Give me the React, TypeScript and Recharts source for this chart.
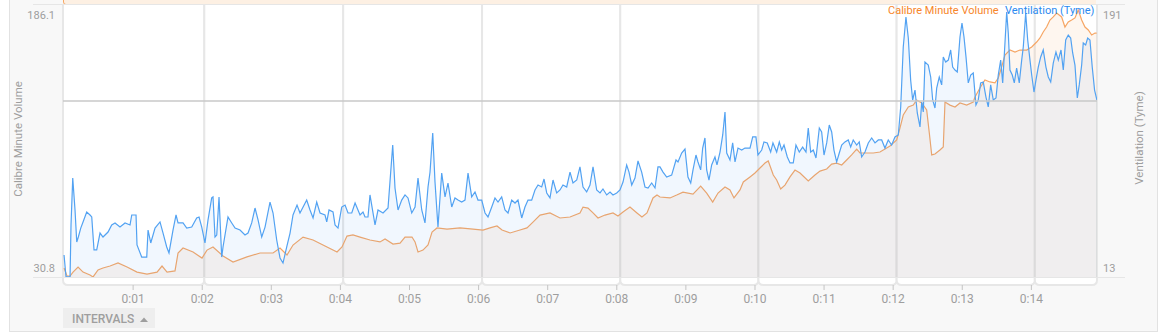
import { ComposedChart, Area, XAxis, YAxis, ReferenceLine, ReferenceArea } from "recharts";

// [minutes, value]
const cmvSeries: [number, number][] = [
  [0, 30.8], [0.043, 25.9], [0.087, 25.9], [0.13, 28.3], [0.203, 31.4], [0.275, 28.3], [0.376, 26.5], [0.42, 25.3],
  [0.492, 29.6], [0.564, 30.8], [0.666, 32.0], [0.781, 33.9], [0.912, 31.4], [1.056, 28.3], [1.201, 27.1], [1.346, 28.3],
  [1.418, 32.0], [1.491, 28.3], [1.606, 29.0], [1.65, 40.0], [1.722, 43.1], [1.867, 40.6], [1.997, 36.9], [2.069, 41.8],
  [2.156, 43.7], [2.301, 38.2], [2.446, 34.5], [2.648, 37.6], [2.837, 40.0], [3.025, 40.0], [3.126, 43.1], [3.227, 38.8],
  [3.314, 44.9], [3.459, 49.8], [3.604, 48.0], [3.748, 44.9], [3.951, 40.6], [4.023, 43.7], [4.095, 50.4], [4.182, 51.1],
  [4.284, 49.8], [4.428, 48.0], [4.573, 46.8], [4.646, 48.6], [4.761, 45.5], [4.863, 46.1], [4.935, 49.8], [5.036, 49.8],
  [5.08, 46.8], [5.123, 40.6], [5.195, 41.8], [5.268, 44.9], [5.326, 52.9], [5.398, 55.4], [5.543, 54.7], [5.731, 55.4],
  [5.919, 54.7], [6.064, 54.1], [6.165, 55.4], [6.266, 56.6], [6.339, 54.1], [6.455, 52.3], [6.599, 54.1], [6.7, 55.4],
  [6.787, 59.0], [6.889, 63.3], [7.033, 64.6], [7.178, 61.5], [7.323, 62.1], [7.467, 64.6], [7.511, 68.2], [7.583, 67.6],
  [7.656, 64.6], [7.728, 61.5], [7.829, 63.3], [7.945, 64.6], [8.017, 62.7], [8.09, 65.2], [8.191, 68.2], [8.292, 64.6],
  [8.364, 62.1], [8.437, 64.6], [8.524, 73.8], [8.582, 75.6], [8.625, 74.4], [8.77, 73.8], [8.867, 75.6], [8.958, 77.4],
  [9.103, 76.2], [9.214, 81.1], [9.301, 76.8], [9.388, 71.3], [9.465, 76.8], [9.566, 80.5], [9.638, 78.7], [9.696, 73.8],
  [9.783, 78.7], [9.831, 83.6], [9.928, 86.7], [10.0, 89.1], [10.072, 92.2], [10.145, 95.2], [10.192, 96.5], [10.265, 87.9],
  [10.314, 84.8], [10.372, 79.3], [10.434, 81.7], [10.507, 86.7], [10.579, 90.9], [10.652, 89.1], [10.771, 84.2], [10.868, 87.9],
  [10.941, 90.3], [11.038, 91.6], [11.11, 94.6], [11.182, 95.2], [11.255, 94.0], [11.327, 97.1], [11.399, 100.2], [11.472, 103.8],
  [11.519, 101.4], [11.592, 101.4], [11.712, 101.4], [11.809, 102.0], [11.906, 104.5], [11.954, 105.7], [12.051, 109.4], [12.098, 116.7],
  [12.146, 124.7], [12.219, 129.6], [12.291, 130.8], [12.34, 133.9], [12.413, 132.1], [12.485, 127.8], [12.523, 113.7], [12.558, 100.2],
  [12.605, 100.8], [12.677, 103.2], [12.725, 105.1], [12.75, 132.7], [12.822, 130.8], [12.895, 129.6], [12.967, 132.1], [13.064, 130.8],
  [13.159, 132.7], [13.184, 135.8], [13.256, 141.3], [13.328, 146.2], [13.401, 145.0], [13.473, 144.4], [13.521, 147.4], [13.57, 154.2],
  [13.618, 161.5], [13.69, 164.6], [13.763, 163.4], [13.835, 164.6], [13.932, 164.6], [14.005, 166.5], [14.077, 169.5], [14.125, 172.0],
  [14.172, 175.7], [14.221, 178.7], [14.269, 183.0], [14.317, 184.9], [14.366, 187.3], [14.438, 184.9], [14.486, 178.7], [14.534, 181.8],
  [14.583, 183.0], [14.631, 184.3], [14.679, 189.2], [14.728, 183.0], [14.776, 178.7], [14.824, 176.9], [14.873, 173.8], [14.921, 175.0],
  [14.945, 175.0],
];

const tymeSeries: [number, number][] = [
  [0, 22.1], [0.029, 6.7], [0.087, 6.7], [0.101, 43.3], [0.126, 76.3], [0.159, 53.8], [0.184, 31.3], [0.207, 34.8],
  [0.242, 41.1], [0.275, 45.4], [0.328, 52.4], [0.376, 50.3], [0.401, 48.9], [0.434, 25.7], [0.473, 25.7], [0.521, 37.6],
  [0.564, 34.8], [0.637, 38.3], [0.69, 43.3], [0.738, 44.7], [0.81, 41.8], [0.883, 44.7], [0.955, 43.3], [0.98, 50.3],
  [1.042, 50.3], [1.056, 29.2], [1.124, 20.7], [1.197, 20.7], [1.216, 39.7], [1.255, 30.6], [1.317, 41.1], [1.389, 45.4],
  [1.433, 37.6], [1.486, 27.8], [1.519, 23.6], [1.577, 39.7], [1.621, 50.3], [1.65, 44.7], [1.722, 44.7], [1.776, 41.1],
  [1.848, 41.8], [1.92, 48.2], [1.954, 48.9], [1.993, 41.8], [2.04, 30.6], [2.084, 46.8], [2.137, 62.3], [2.156, 63.0],
  [2.185, 34.8], [2.21, 36.2], [2.243, 63.0], [2.282, 20.7], [2.301, 27.8], [2.373, 48.9], [2.427, 44.7], [2.475, 41.1],
  [2.547, 39.7], [2.619, 36.2], [2.663, 37.6], [2.716, 44.7], [2.764, 55.2], [2.808, 46.8], [2.861, 34.8], [2.909, 41.8],
  [2.981, 59.4], [3.025, 51.7], [3.078, 32.7], [3.126, 20.0], [3.169, 16.5], [3.223, 27.8], [3.271, 37.6], [3.314, 50.3],
  [3.372, 57.3], [3.415, 51.7], [3.512, 60.8], [3.56, 53.8], [3.604, 48.2], [3.657, 59.4], [3.705, 51.7], [3.777, 50.3],
  [3.802, 45.4], [3.835, 53.8], [3.893, 52.4], [3.922, 43.3], [3.965, 41.1], [4.019, 55.9], [4.067, 57.3], [4.11, 51.7],
  [4.164, 51.7], [4.212, 58.7], [4.284, 50.3], [4.327, 52.4], [4.356, 48.9], [4.399, 48.9], [4.428, 64.4], [4.501, 43.3],
  [4.544, 53.8], [4.617, 51.7], [4.689, 55.2], [4.757, 99.5], [4.79, 69.3], [4.834, 53.8], [4.887, 60.8], [4.935, 64.4],
  [4.978, 62.3], [5.032, 51.7], [5.08, 55.9], [5.123, 76.3], [5.177, 53.8], [5.224, 44.7], [5.268, 70.0], [5.297, 80.5],
  [5.336, 108.0], [5.369, 73.5], [5.412, 41.8], [5.466, 79.8], [5.514, 63.0], [5.557, 72.8], [5.611, 55.9], [5.658, 62.3],
  [5.702, 60.8], [5.755, 59.4], [5.803, 60.8], [5.847, 79.8], [5.9, 63.0], [5.948, 66.5], [5.991, 60.8], [6.045, 60.8],
  [6.093, 51.7], [6.136, 48.9], [6.19, 55.9], [6.237, 62.3], [6.281, 59.4], [6.334, 63.0], [6.382, 53.8], [6.426, 51.7],
  [6.479, 60.8], [6.527, 58.7], [6.57, 60.8], [6.624, 48.2], [6.671, 55.9], [6.715, 60.8], [6.768, 60.8], [6.816, 67.9],
  [6.86, 71.4], [6.913, 70.0], [6.947, 75.6], [6.986, 65.8], [7.033, 62.3], [7.077, 74.9], [7.13, 65.8], [7.178, 67.9],
  [7.221, 71.4], [7.275, 70.0], [7.323, 80.5], [7.366, 72.8], [7.42, 74.9], [7.467, 84.1], [7.511, 70.0], [7.564, 66.5],
  [7.612, 71.4], [7.656, 84.1], [7.709, 67.9], [7.757, 65.8], [7.8, 68.6], [7.854, 64.4], [7.902, 66.5], [7.945, 64.4],
  [7.999, 65.8], [8.046, 67.9], [8.09, 73.5], [8.143, 85.5], [8.177, 80.5], [8.216, 71.4], [8.263, 76.3], [8.307, 88.3],
  [8.36, 80.5], [8.408, 70.0], [8.452, 69.3], [8.505, 72.8], [8.553, 69.3], [8.596, 84.1], [8.625, 84.1], [8.669, 80.5],
  [8.722, 77.0], [8.794, 78.4], [8.857, 89.0], [8.886, 87.6], [8.939, 93.9], [8.987, 96.7], [9.03, 77.0], [9.07, 72.8],
  [9.103, 82.0], [9.146, 92.5], [9.175, 87.6], [9.214, 82.0], [9.243, 97.4], [9.276, 104.5], [9.301, 82.0], [9.334, 74.9],
  [9.373, 85.5], [9.421, 91.1], [9.45, 85.5], [9.494, 94.6], [9.533, 106.6], [9.566, 122.8], [9.591, 93.9], [9.638, 89.0],
  [9.677, 101.0], [9.711, 87.6], [9.754, 97.4], [9.808, 96.0], [9.855, 97.4], [9.928, 97.4], [9.967, 105.2], [10.014, 105.2],
  [10.043, 92.5], [10.097, 96.0], [10.13, 101.7], [10.178, 101.0], [10.227, 94.6], [10.26, 101.0], [10.314, 94.6], [10.352, 101.7],
  [10.386, 96.0], [10.42, 99.5], [10.468, 91.1], [10.507, 86.9], [10.554, 86.9], [10.593, 99.5], [10.641, 94.6], [10.69, 98.1],
  [10.738, 94.6], [10.771, 111.5], [10.806, 94.6], [10.844, 96.0], [10.883, 90.4], [10.931, 111.5], [10.965, 108.7], [10.999, 92.5],
  [11.038, 101.0], [11.075, 113.6], [11.11, 108.7], [11.143, 96.0], [11.182, 87.6], [11.22, 93.9], [11.255, 99.5], [11.302, 101.7],
  [11.35, 103.1], [11.385, 98.1], [11.422, 103.1], [11.472, 99.5], [11.509, 101.7], [11.544, 91.1], [11.592, 94.6], [11.64, 101.0],
  [11.689, 104.5], [11.737, 101.0], [11.785, 103.1], [11.834, 103.1], [11.881, 97.4], [11.929, 103.1], [11.978, 99.5], [12.026, 105.2],
  [12.074, 106.6], [12.109, 126.3], [12.146, 168.5], [12.185, 189.6], [12.219, 174.8], [12.253, 145.3], [12.282, 131.2], [12.316, 138.2],
  [12.349, 122.1], [12.388, 112.2], [12.413, 129.8], [12.436, 122.8], [12.46, 157.9], [12.508, 155.8], [12.543, 147.4], [12.572, 131.2],
  [12.605, 125.6], [12.63, 139.6], [12.667, 147.4], [12.702, 141.8], [12.725, 161.5], [12.76, 157.9], [12.798, 159.3], [12.832, 166.4],
  [12.861, 154.4], [12.895, 152.3], [12.928, 150.9], [12.967, 175.5], [12.996, 185.4], [13.025, 175.5], [13.054, 161.5], [13.087, 143.2],
  [13.122, 148.8], [13.159, 150.2], [13.198, 127.7], [13.231, 131.2], [13.266, 143.2], [13.304, 143.9], [13.343, 133.3], [13.376, 126.3],
  [13.411, 141.8], [13.449, 131.2], [13.488, 132.6], [13.521, 148.8], [13.556, 159.3], [13.585, 143.2], [13.618, 171.3], [13.643, 193.1],
  [13.666, 178.3], [13.69, 152.3], [13.724, 148.8], [13.753, 143.2], [13.787, 153.7], [13.825, 143.2], [13.86, 159.3], [13.883, 168.5],
  [13.918, 192.4], [13.947, 173.4], [13.98, 159.3], [14.005, 148.8], [14.038, 136.8], [14.067, 145.3], [14.1, 154.4], [14.135, 161.5],
  [14.172, 166.4], [14.211, 154.4], [14.245, 147.4], [14.28, 143.9], [14.317, 157.2], [14.356, 165.0], [14.39, 159.3], [14.429, 166.4],
  [14.462, 152.3], [14.497, 173.4], [14.534, 176.9], [14.569, 174.8], [14.598, 164.3], [14.631, 155.8], [14.665, 132.6], [14.693, 141.8],
  [14.728, 155.8], [14.751, 171.3], [14.786, 169.9], [14.815, 174.8], [14.848, 173.4], [14.881, 154.4], [14.915, 138.2], [14.949, 131.2],
];

const intervalBreaks = [-0.015, 2.03, 4.04, 6.05, 8.05, 10.05, 12.05, 14.05, 14.95];
const timeTicks = [1, 2, 3, 4, 5, 6, 7, 8, 9, 10, 11, 12, 13, 14];
const cmvTicks = [30.8, 186.1];
const tymeTicks = [13, 191];
const cmvThreshold = 133.3;

const CMV = "Calibre Minute Volume";
const TYME = "Ventilation (Tyme)";
const FONT = "Roboto, 'Noto Sans', sans-serif";
const GREY = "#9e9e9e";

const rowMap = new Map<number, { t: number; cmv?: number; tyme?: number }>();
cmvSeries.forEach(([t, v]) => rowMap.set(t, { ...(rowMap.get(t) || { t }), cmv: v }));
tymeSeries.forEach(([t, v]) => rowMap.set(t, { ...(rowMap.get(t) || { t }), tyme: v }));
const data = [...rowMap.values()].sort((a, b) => a.t - b.t);

const fmtTime = (v: number) => `0:${String(v).padStart(2, "0")}`;

const TimeTick = ({ x, y, payload }: any) => (
  <g>
    <line x1={x} x2={x} y1={y + 8} y2={y + 13} stroke="#c4c4c4" strokeWidth={1} />
    <text x={x} y={y + 26} textAnchor="middle" fill={GREY} fontSize={12} fontFamily={FONT}>
      {fmtTime(payload.value)}
    </text>
  </g>
);

// white interval panel with rounded bottom corners hanging under the plot
const IntervalBox = ({ x, y, width, height }: any) => {
  const r = 5;
  const b = y + height + 8;
  const d = `M${x},${y} L${x},${b - r} Q${x},${b} ${x + r},${b} L${x + width - r},${b} Q${x + width},${b} ${x + width},${b - r} L${x + width},${y}`;
  return (
    <g>
      <rect x={x} y={y} width={width} height={height} fill="#ffffff" />
      <path d={d} fill="#ffffff" stroke="#e7e7e7" strokeWidth={2} />
    </g>
  );
};

export default function App() {
  return (
    <div style={{ position: "absolute", left: 0, top: 0, width: 1161, height: 336, background: "#fff", fontFamily: FONT }}>
      <div
        style={{
          position: "absolute", left: 9, top: 0, width: 1147, height: 331,
          background: "#f8f8f8", borderLeft: "1px solid #e2e2e2", borderRight: "1px solid #e2e2e2",
          borderBottom: "1px solid #e2e2e2",
        }}
      />
      <div style={{ position: "absolute", left: 0, top: 0 }}>
        <ComposedChart width={1161} height={307} data={data} margin={{ top: 5, right: 0, bottom: 0, left: 0 }}>
          {intervalBreaks.slice(0, -1).map((x1, i) => (
            <ReferenceArea
              key={i}
              yAxisId="cmv"
              x1={x1}
              x2={intervalBreaks[i + 1]}
              y1={25.28}
              y2={192.24}
              ifOverflow="visible"
              shape={<IntervalBox />}
            />
          ))}
          <XAxis
            dataKey="t"
            type="number"
            domain={[-0.015, 14.95]}
            ticks={timeTicks}
            tick={<TimeTick />}
            tickLine={false}
            axisLine={false}
            tickSize={0}
            tickMargin={0}
            height={30}
            allowDataOverflow
          />
          <YAxis
            yAxisId="cmv"
            orientation="left"
            width={63}
            domain={[25.28, 192.24]}
            ticks={cmvTicks}
            tickFormatter={(v: number) => v.toFixed(1)}
            tick={{ fontSize: 11, fill: GREY, fontFamily: FONT }}
            tickLine={false}
            axisLine={false}
            tickSize={0}
            tickMargin={8}
            allowDataOverflow
          />
          <YAxis
            yAxisId="tyme"
            orientation="right"
            width={64}
            domain={[6.67, 198.04]}
            ticks={tymeTicks}
            tick={{ fontSize: 11, fill: GREY, fontFamily: FONT, textAnchor: "start" }}
            tickLine={false}
            axisLine={false}
            tickSize={0}
            tickMargin={6}
            allowDataOverflow
          />
          <ReferenceLine yAxisId="cmv" y={cmvThreshold} stroke="#c8c8c8" strokeWidth={1.5} />
          <Area
            yAxisId="cmv"
            dataKey="cmv"
            name={CMV}
            type="linear"
            stroke="#f6a665"
            strokeWidth={1.2}
            fill="#f5a35f"
            fillOpacity={0.1}
            connectNulls
            dot={false}
            activeDot={false}
            isAnimationActive={false}
          />
          <Area
            yAxisId="tyme"
            dataKey="tyme"
            name={TYME}
            type="linear"
            stroke="#52a2f2"
            strokeWidth={1.2}
            fill="#4a9df0"
            fillOpacity={0.08}
            connectNulls
            dot={false}
            activeDot={false}
            isAnimationActive={false}
          />
        </ComposedChart>
      </div>
      <svg width={1161} height={336} style={{ position: "absolute", left: 0, top: 0, pointerEvents: "none" }}>
        <rect x={64} y={0} width={1032} height={4} fill="#fdf0e3" />
        <path d="M63.5,0 L63.5,2 Q63.5,4.5 66,4.5 L72,4.5" fill="none" stroke="#f7a865" strokeWidth={1} />
        <line x1={33} x2={1125} y1={4.5} y2={4.5} stroke="#e6e6e6" strokeWidth={1} />
        <line x1={33} x2={1125} y1={277.5} y2={277.5} stroke="#e6e6e6" strokeWidth={1} />
        <text x={19} y={139} transform="rotate(-90 19 139)" textAnchor="middle" dominantBaseline="middle" fontSize={11.5} fill={GREY} fontFamily={FONT}>
          {CMV}
        </text>
        <text x={1140} y={138} transform="rotate(-90 1140 138)" textAnchor="middle" dominantBaseline="middle" fontSize={11.5} fill={GREY} fontFamily={FONT}>
          {TYME}
        </text>
        <text x={888} y={14} fontSize={11} fill="#f7862a" fontFamily={FONT}>{CMV}</text>
        <text x={1005} y={14} fontSize={11} fill="#2b8af0" fontFamily={FONT}>{TYME}</text>
        <rect x={63} y={308} width={92} height={20} fill="#eeeeee" />
        <text x={72} y={322.5} fontSize={12} fontWeight={500} fill={GREY} fontFamily={FONT}>INTERVALS</text>
        <path d="M140,322 L144,317.5 L148,322 Z" fill={GREY} />
      </svg>
    </div>
  );
}
